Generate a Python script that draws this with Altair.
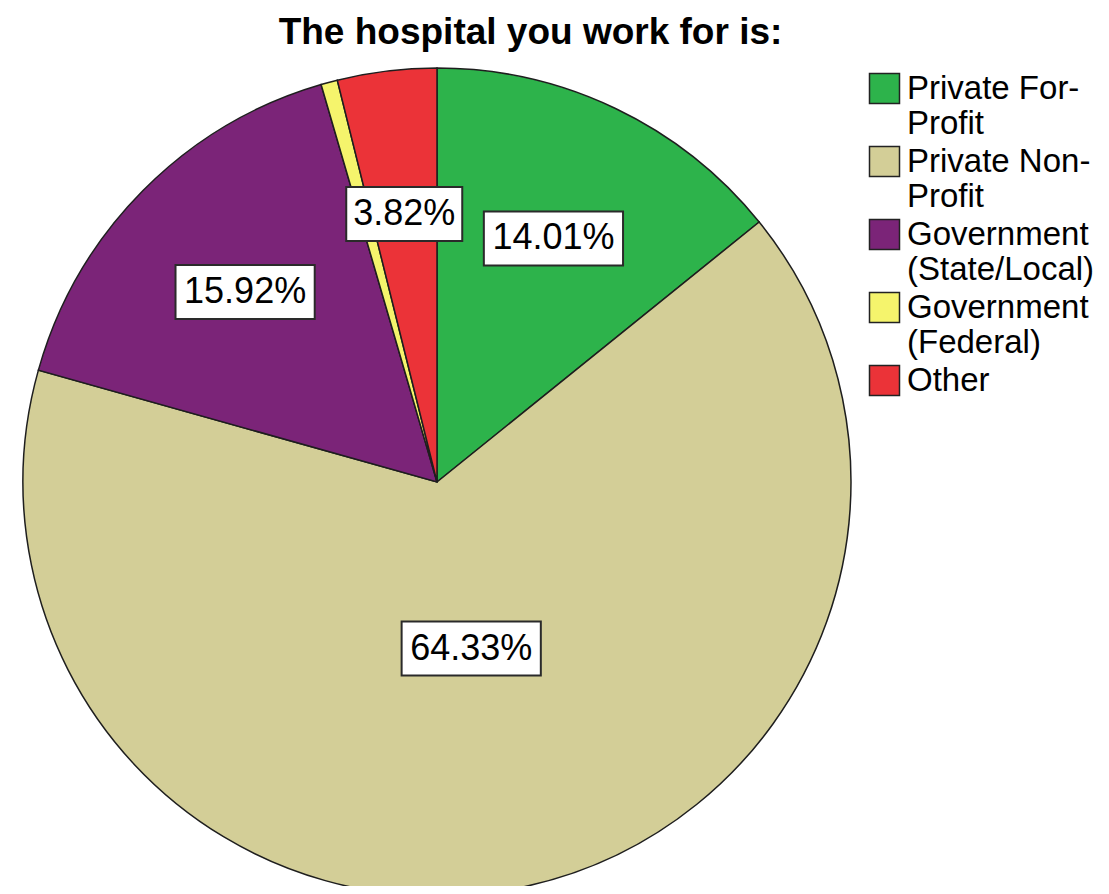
import altair as alt
import pandas as pd

categories = ["Private For-Profit", "Private Non-Profit", "Government (State/Local)",
              "Government (Federal)", "Other"]
legend_lines = [["Private For-", "Profit"], ["Private Non-", "Profit"],
                ["Government", "(State/Local)"], ["Government", "(Federal)"], ["Other"]]
counts = [22, 101, 25, 1, 6]
percent_labels = [14.01, 64.33, 15.92, None, 3.82]
colors = ["#2db34b", "#d3ce97", "#7b2478", "#f5f46c", "#eb3338"]

df = pd.DataFrame({
    "idx": list(range(len(categories))),
    "category": categories,
    "count": counts,
    "label": [None if p is None else f"{p:.2f}%" for p in percent_labels],
})

W, H = 1093, 828
CX, CY, R = 429, 424, 414
FONT = "Liberation Sans"

label_expr = " : ".join(
    f"datum.label == '{c}' ? {lines!r}" for c, lines in zip(categories, legend_lines)
) + " : datum.label"

base = alt.Chart(df)

pie = base.mark_arc(radius=R, stroke="#1e1e1e", strokeWidth=1.5).encode(
    theta=alt.Theta("count:Q", stack=True),
    order=alt.Order("idx:Q"),
    color=alt.Color(
        "category:N",
        scale=alt.Scale(domain=categories, range=colors),
        sort=categories,
        legend=alt.Legend(
            title=None, orient="none", legendX=860, legendY=14,
            symbolType="square", symbolSize=900, symbolStrokeColor="#222",
            symbolStrokeWidth=1.5, labelFontSize=33, labelFont=FONT,
            labelColor="black", labelOffset=6,
            rowPadding=2, labelLimit=400, labelBaseline="middle",
            labelExpr=label_expr, padding=0,
        ),
    ),
    x=alt.value(CX),
    y=alt.value(CY),
)

lab = base.transform_window(
    cum="sum(count)", sort=[alt.SortField("idx")], frame=[None, 0]
).transform_joinaggregate(
    total="sum(count)"
).transform_filter(
    "datum.label != null"
).transform_calculate(
    mid="2*PI*(datum.cum - datum.count/2)/datum.total",
    lr="datum.count/datum.total > 0.5 ? 170 : 270",
).transform_calculate(
    lx=f"{CX} + datum.lr*sin(datum.mid)",
    ly=f"{CY} - datum.lr*cos(datum.mid)",
    hw="11.6*length(datum.label)",
).transform_calculate(
    x0="datum.lx - datum.hw", x1="datum.lx + datum.hw",
    y0="datum.ly - 27", y1="datum.ly + 27",
)

xs = alt.Scale(domain=[0, W], nice=False, zero=False)
ys = alt.Scale(domain=[0, H], nice=False, zero=False, reverse=True)

boxes = lab.mark_rect(fill="white", stroke="#2a2a2a", strokeWidth=2).encode(
    x=alt.X("x0:Q", scale=xs, axis=None),
    x2="x1:Q",
    y=alt.Y("y0:Q", scale=ys, axis=None),
    y2="y1:Q",
)

texts = lab.mark_text(font=FONT, fontSize=36, color="black", align="center",
                      baseline="middle").encode(
    x=alt.X("lx:Q", scale=xs, axis=None),
    y=alt.Y("ly:Q", scale=ys, axis=None),
    text="label:N",
)

chart = alt.layer(pie, boxes, texts).properties(
    width=W, height=H,
    autosize=alt.AutoSizeParams(type="none"),
    padding={"top": 50, "left": 0, "right": 0, "bottom": 0},
    title=alt.TitleParams(
        "The hospital you work for is:", fontSize=37, fontWeight="bold",
        font=FONT, color="black", anchor="middle", dx=-24, offset=6,
    ),
).configure_view(stroke=None)

chart.save("out.html", embed_options={"renderer": "svg", "actions": False})
